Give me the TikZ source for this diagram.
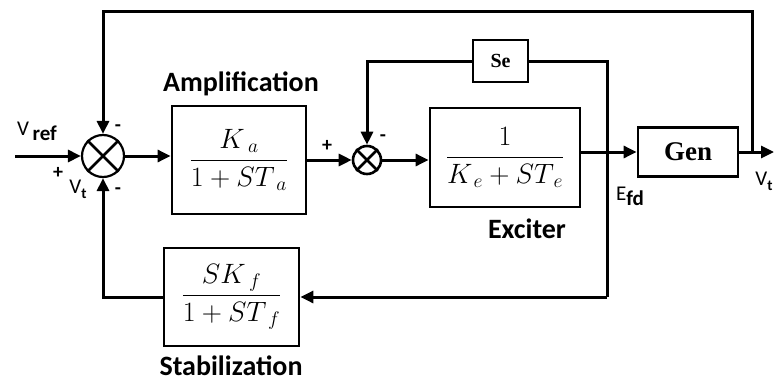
\RequirePackage{fix-cm}
\documentclass[tikz,border=0pt]{standalone}
\usepackage{amsmath}
\usepackage{fontspec}
\setmainfont{Carlito}
\newfontfamily\gentxt{Liberation Serif}
\usetikzlibrary{arrows.meta,positioning}

\begin{document}
\begin{tikzpicture}[x=1pt,y=-1pt,
  ctrlblock/.style={draw,line width=2.8pt,inner sep=0pt,align=center,
    font=\fontsize{28}{30}\selectfont},
  ctrlsum/.style={draw,circle,line width=2.2pt,inner sep=0pt},
  ctrlarr/.style={-{Triangle[length=13pt,width=12pt]},line width=3pt},
  ctrlline/.style={line width=3pt},
  ctrllbl/.style={font=\fontsize{28}{30}\selectfont\bfseries},
  ctrlsig/.style={font=\fontsize{21}{24}\selectfont},
  ctrlsign/.style={font=\fontsize{20}{22}\selectfont\bfseries,inner sep=0pt}
]
  \useasboundingbox (0,0) rectangle (774,383);

  % Summing junctions
  \node[ctrlsum,minimum size=42pt] (sum1) at (103,156) {};
  \draw[line width=2.6pt] (sum1.north west) -- (sum1.south east)
    (sum1.north east) -- (sum1.south west);
  \node[ctrlsum,minimum size=28pt,line width=2.6pt] (sum2) at (367,160) {};
  \draw[line width=2.6pt] (sum2.north west) -- (sum2.south east)
    (sum2.north east) -- (sum2.south west);

  % Blocks
  \node[ctrlblock,minimum width=134pt,minimum height=108pt] (amp) at (239,160)
    {$\dfrac{K_{\;a}}{1+ST_{\;a}}$};
  \node[ctrlblock,minimum width=150pt,minimum height=99pt] (exc) at (505,157.5)
    {$\dfrac{1}{K_{\,e}+ST_{\,e}}$};
  \node[ctrlblock,minimum width=100pt,minimum height=49pt,
    font=\fontsize{27}{30}\selectfont\gentxt\bfseries] (gen) at (688,152) {Gen};
  \node[ctrlblock,minimum width=55pt,minimum height=42pt,
    font=\fontsize{20}{22}\selectfont\gentxt\bfseries] (se) at (500.5,61) {Se};
  \node[ctrlblock,minimum width=135pt,minimum height=98pt] (stab) at (231.5,297)
    {$\dfrac{SK_{\;f}}{1+ST_{\;f}}$};

  % Block labels
  \node[ctrllbl] (amplbl) at (241,84) {Amplification};
  \node[ctrllbl] (exclbl) at (527,229) {Exciter};
  \node[ctrllbl] (stablbl) at (231,366) {Stabilization};

  % Signal labels
  \node[ctrlsig] (vref) at (37,131) {V\,\raisebox{-5pt}{\bfseries ref}};
  \node[ctrlsig] (vtin) at (78,189)
    {V\raisebox{-5pt}{\fontsize{15}{17}\selectfont\bfseries t}};
  \node[ctrlsig] (efd) at (630,196) {E\raisebox{-5pt}{\bfseries fd}};
  \node[ctrlsig] (vtout) at (764,181)
    {V\raisebox{-5pt}{\fontsize{15}{17}\selectfont\bfseries t}};

  % Signs
  \node[ctrlsign] (s1) at (58,173) {+};
  \node[ctrlsign] (s2) at (118,128) {-};
  \node[ctrlsign] (s3) at (118,191) {-};
  \node[ctrlsign] (s4) at (327,146) {+};
  \node[ctrlsign] (s5) at (383,138) {-};

  % Connection points
  \coordinate (vin) at (15,156);
  \coordinate (vout) at (774,152);
  \coordinate (vtap) at (752,152);
  \coordinate (fbtop) at (752,11);
  \coordinate (efdtop) at (607,61);
  \coordinate (efdbot) at (607,297);

  % Forward path
  \draw[ctrlarr] (vin) -- (sum1.west);
  \draw[ctrlarr] (sum1.east) -- (amp.west |- sum1);
  \draw[ctrlarr] (amp.east) -- (sum2.west);
  \draw[ctrlarr] (sum2.east) -- (exc.west |- sum2);
  \draw[ctrlarr] (exc.east |- gen) -- (gen.west);
  \draw[ctrlarr] (gen.east) -- (vout);

  % Feedback paths
  \draw[ctrlarr] (vtap) -- (fbtop) -| (sum1.north);
  \draw[ctrlline] (efdbot) -- (efdtop) -- (se.east);
  \draw[ctrlarr] (se.west) -| (sum2.north);
  \draw[ctrlarr] (efdbot) -- (stab.east);
  \draw[ctrlarr] (stab.west) -| (sum1.south);
\end{tikzpicture}
\end{document}
